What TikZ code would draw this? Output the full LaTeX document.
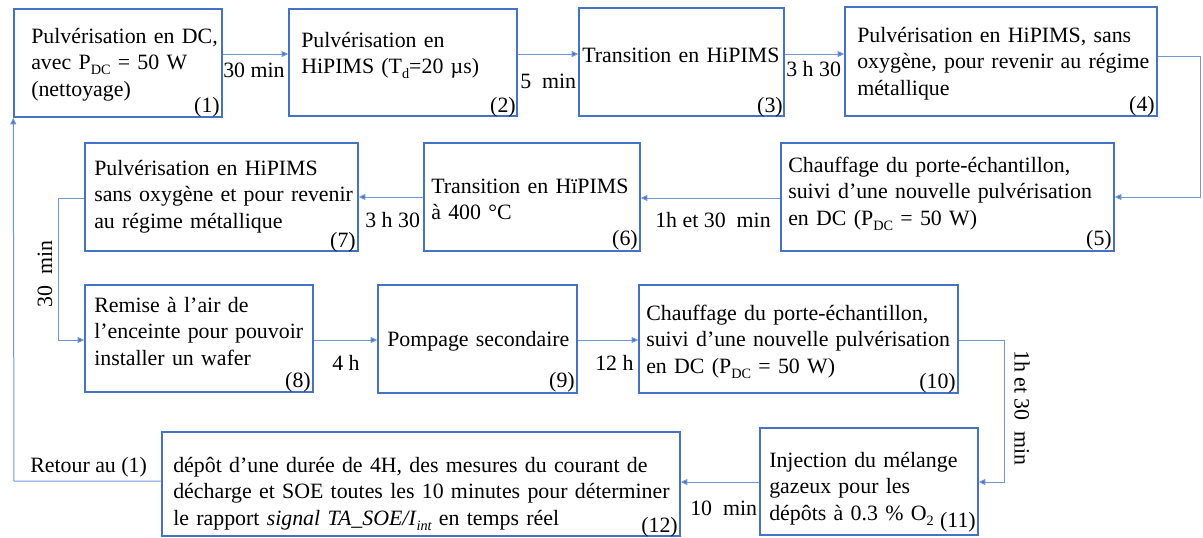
\documentclass[tikz,border=0pt]{standalone}
\usepackage{fontspec}
\setmainfont{Liberation Serif}
\usetikzlibrary{fit,arrows.meta,calc}
\definecolor{boxblue}{RGB}{68,114,196}
\definecolor{linkblue}{RGB}{112,150,214}
\newcommand\sub[1]{\raisebox{-3.5pt}{\fontsize{10.7}{12}\selectfont #1}}
\begin{document}
\begin{tikzpicture}[x=0.75pt,y=-0.75pt,
  boxst/.style={draw=boxblue, line width=1.1pt, inner sep=0pt},
  txt/.style={anchor=base west, inner sep=0pt, font=\fontsize{16.4}{20}\selectfont, text width=330pt, align=left},
  num/.style={anchor=base east, inner sep=0pt, font=\fontsize{16.4}{20}\selectfont},
  lbl/.style={anchor=base west, inner sep=0pt, font=\fontsize{16.4}{20}\selectfont},
  vlbl/.style={inner sep=0pt, font=\fontsize{16.4}{20}\selectfont},
  link/.style={draw=linkblue, line width=0.75pt, -{Triangle[length=5pt,width=4.5pt,fill=boxblue]}}
]
\useasboundingbox (0,0) rectangle (1203,537);

% ---- boxes ----
\coordinate (b1a) at (14,9);   \coordinate (b1b) at (222,117);
\coordinate (b2a) at (289,9);  \coordinate (b2b) at (517,116);
\coordinate (b3a) at (579,8);  \coordinate (b3b) at (784,116);
\coordinate (b4a) at (845,7);  \coordinate (b4b) at (1157,116);
\coordinate (b5a) at (781,143); \coordinate (b5b) at (1114,251);
\coordinate (b6a) at (424,143); \coordinate (b6b) at (640,251);
\coordinate (b7a) at (85,143);  \coordinate (b7b) at (358,251);
\coordinate (b8a) at (85,285);  \coordinate (b8b) at (313,392);
\coordinate (b9a) at (378,285); \coordinate (b9b) at (577,393);
\coordinate (b10a) at (639,285); \coordinate (b10b) at (958,393);
\coordinate (b11a) at (760,428); \coordinate (b11b) at (978,535);
\coordinate (b12a) at (162,432); \coordinate (b12b) at (680,536);

\foreach \n in {1,...,12}{\node[boxst, fit=(b\n a)(b\n b)] (b\n) {};}

% ---- box texts ----
\node[txt] (t1) at (31,43) {Pulvérisation en DC,\\avec P\sub{DC} = 50 W\\(nettoyage)};
\node[num] (n1) at (220,112) {(1)};
\node[txt] (t2) at (301,47) {Pulvérisation en\\HiPIMS (T\sub{d}=20 µs)};
\node[num] (n2) at (516,112) {(2)};
\node[txt] (t3) at (582,62) {Transition en HiPIMS};
\node[num] (n3) at (783,112) {(3)};
\node[txt] (t4) at (857,42) {Pulvérisation en HiPIMS, sans\\oxygène, pour revenir au régime\\métallique};
\node[num] (n4) at (1155,111) {(4)};
\node[txt] (t5) at (788,172) {Chauffage du porte-échantillon,\\suivi d’une nouvelle pulvérisation\\en DC (P\sub{DC} = 50 W)};
\node[num] (n5) at (1112,245) {(5)};
\node[txt] (t6) at (431,193) {Transition en HïPIMS\\à 400 °C};
\node[num] (n6) at (638,245) {(6)};
\node[txt] (t7) at (94,175) {Pulvérisation en HiPIMS\\sans oxygène et pour revenir\\au régime métallique};
\node[num] (n7) at (356,247) {(7)};
\node[txt] (t8) at (94,312) {Remise à l’air de\\l’enceinte pour pouvoir\\installer un wafer};
\node[num] (n8) at (311,387) {(8)};
\node[txt] (t9) at (387,346) {Pompage secondaire};
\node[num] (n9) at (575,387) {(9)};
\node[txt] (t10) at (646,320) {Chauffage du porte-échantillon,\\suivi d’une nouvelle pulvérisation\\en DC (P\sub{DC} = 50 W)};
\node[num] (n10) at (956,388) {(10)};
\node[txt] (t11) at (769,467) {Injection du mélange\\gazeux pour les\\dépôts à 0.3 \% O\sub{2}};
\node[num] (n11) at (976,527) {(11)};
\node[txt, text width=520pt] (t12) at (173,472) {dépôt d’une durée de 4H, des mesures du courant de\\décharge et SOE toutes les 10 minutes pour déterminer\\le rapport \textit{signal TA\_SOE/I}\sub{\itshape int} en temps réel};
\node[num] (n12) at (678,532) {(12)};

% ---- routing helpers ----
\coordinate (r1) at (0,54);
\coordinate (k4) at (0,56);
\coordinate (k45) at (1200,197);
\coordinate (r2a) at (0,198);
\coordinate (r2b) at (0,197);
\coordinate (k78) at (58,198);
\coordinate (r3) at (0,340);
\coordinate (k1011) at (1004,340);
\coordinate (r4) at (0,482);
\coordinate (k121) at (14,481);

% ---- connectors ----
\draw[link] (b1.east |- r1) -- (b2.west |- r1);
\draw[link] (b2.east |- r1) -- (b3.west |- r1);
\draw[link] (b3.east |- r1) -- (b4.west |- r1);
\draw[link] (b4.east |- k4) -| (k45) -- (b5.east |- k45);
\draw[link] (b5.west |- r2a) -- (b6.east |- r2a);
\draw[link] (b6.west |- r2b) -- (b7.east |- r2b);
\draw[link] (b7.west |- k78) -- (k78) |- (b8.west |- r3);
\draw[link] (b8.east |- r3) -- (b9.west |- r3);
\draw[link] (b9.east |- r3) -- (b10.west |- r3);
\draw[link] (b10.east |- k1011) -- (k1011) |- (b11.east |- r4);
\draw[link] (b11.west |- r4) -- (b12.east |- r4);
\draw[link] (b12.west |- k121) -- (k121) -- (b1.south west);

% ---- connector labels ----
\node[lbl] (l12) at (223,77) {30 min};
\node[lbl] (l23) at (520,88) {5\ \ min};
\node[lbl] (l34) at (786,76) {3 h 30};
\node[lbl] (l56) at (655,227) {1h et 30\ \ min};
\node[lbl] (l67) at (365,227) {3 h 30};
\node[vlbl, rotate=90] (l78) at (45,274) {30\ \ min};
\node[lbl] (l89) at (332,370) {4 h};
\node[lbl] (l910) at (595,370) {12 h};
\node[vlbl, rotate=-90] (l1011) at (1022,408) {1h et 30\ \ min};
\node[lbl] (l1112) at (690,515) {10\ \ min};
\node[lbl] (lret) at (30,472) {Retour au (1)};
\end{tikzpicture}
\end{document}
